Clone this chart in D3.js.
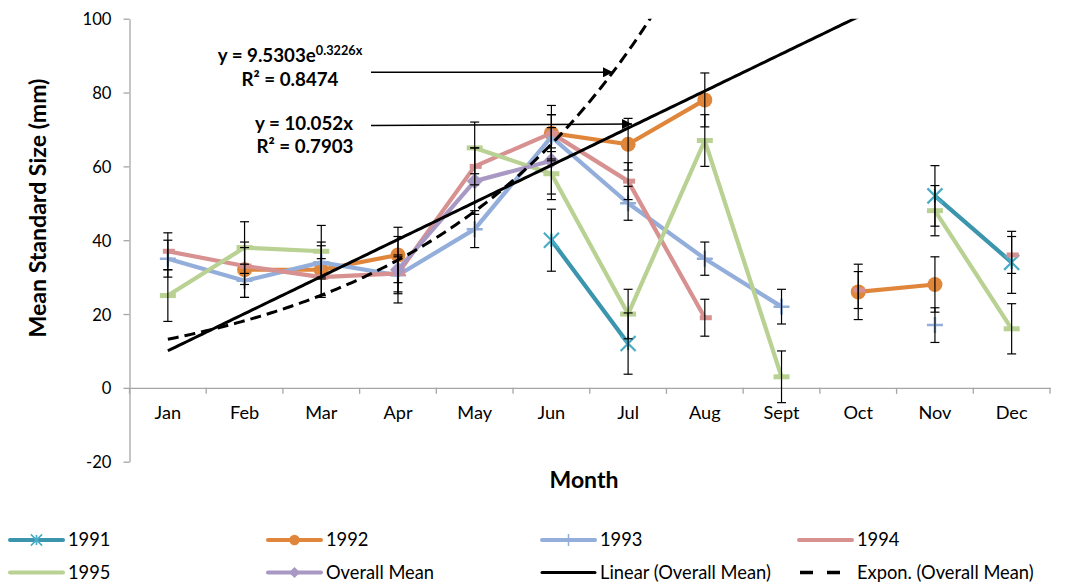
<!DOCTYPE html>
<html><head><meta charset="utf-8">
<script src="https://cdn.jsdelivr.net/npm/d3@7"></script>
<style>
body{margin:0;background:#fff}
svg{display:block}
text{font-family:Lato,"Liberation Sans",sans-serif;fill:#000}
</style>
</head><body>
<svg id="chart" width="1070" height="586"></svg>
<script>
// ---------- data ----------
const months = ["Jan","Feb","Mar","Apr","May","Jun","Jul","Aug","Sept","Oct","Nov","Dec"];
const yTicks = [-20,0,20,40,60,80,100];

const s1991 = [null,null,null,null,null,40,12,null,null,null,52,34];
const s1992 = [null,32,32,36,null,69,66,78,null,26,28,null];
const s1993 = [35,29,34,30.5,43,68,50,35,22,null,17,null];
const s1994 = [37,33,30,31,60,69,56,19,null,26.5,null,36];
const s1995 = [25,38,37,null,65,58,20,67,3,null,48,16];
const sMean = [null,null,null,32,56,61.5,null,null,null,null,null,null];

const e1991 = [null,null,null,null,null,8.4,8.3,null,null,null,8.2,8.4];
const e1992 = [null,7.5,7.5,7.5,null,7.5,7,7.3,null,7.5,7.5,null];
const e1993 = [5,4.5,4.5,5,5,6,4.6,4.5,4.7,null,4.7,null];
const e1994 = [5,5,5,5,5,5,5,5,null,5,null,5];
const e1995 = [7,7,7,null,7,7,6.7,7,7,null,6.8,6.8];
const eMean = [null,null,null,9,9,9,null,null,null,null,null,null];

// trendlines of Overall Mean as printed on the chart
const linearSlope = 10.052;
const expA = 9.5303, expB = 0.3226;

const seriesNames = ["1991","1992","1993","1994","1995","Overall Mean"];

// ---------- styles ----------
const seriesDefs = [
  {name:seriesNames[0], vals:s1991, err:e1991, line:"#3A95AD", mcol:"#4BACC6", marker:"star"},
  {name:seriesNames[1], vals:s1992, err:e1992, line:"#E0863B", mcol:"#E0863B", marker:"circle"},
  {name:seriesNames[2], vals:s1993, err:e1993, line:"#93AEDA", mcol:"#93AEDA", marker:"plus"},
  {name:seriesNames[3], vals:s1994, err:e1994, line:"#D69190", mcol:"#D69190", marker:"dashS"},
  {name:seriesNames[4], vals:s1995, err:e1995, line:"#B9D192", mcol:"#B9D192", marker:"dashL"},
  {name:seriesNames[5], vals:sMean, err:eMean, line:"#A898C4", mcol:"#A898C4", marker:"diamond"}
];

const svg = d3.select("#chart");
const X0 = 129.5, X1 = 1050;
const x = d3.scaleBand().domain(months).range([X0, X1]).paddingInner(0).paddingOuter(0);
const bw = x.bandwidth();
const cx = m => x(m) + bw/2;
const xNum = d3.scaleLinear().domain([1,12]).range([cx(months[0]), cx(months[11])]);
const y = d3.scaleLinear().domain([-20,100]).range([461.7, 18.7]);

// scale a text's font so its rendered width equals target
function fit(sel, target){
  const node = sel.node();
  const fs = parseFloat(sel.attr("font-size"));
  const w = node.getComputedTextLength();
  const nf = fs*target/w;
  sel.attr("font-size", nf);
  return nf;
}

svg.append("defs").append("clipPath").attr("id","plotclip")
  .append("rect").attr("x",X0).attr("y",y(100)).attr("width",X1-X0).attr("height",y(-20)-y(100));

// y axis
const yAxis = svg.append("g").attr("transform",`translate(${X0},0)`)
  .call(d3.axisLeft(y).tickValues(yTicks).tickFormat(d=>String(d)).tickSize(6).tickSizeOuter(0).tickPadding(12));
yAxis.select(".domain").attr("stroke","#A6A6A6").attr("stroke-width",1.3);
yAxis.selectAll(".tick line").attr("stroke","#A6A6A6").attr("stroke-width",1.3);
yAxis.selectAll(".tick text").attr("font-size",17).attr("fill","#333").style("font-family","Lato,sans-serif");
{
  const t100 = yAxis.selectAll(".tick text").filter(d=>d===100);
  const f = fit(t100, 29);
  yAxis.selectAll(".tick text").attr("font-size",f).attr("dy","0.36em");
}

// x axis at y=0
const xAxis = svg.append("g").attr("transform",`translate(0,${y(0)})`)
  .call(d3.axisBottom(x).tickSize(0).tickPadding(18));
xAxis.select(".domain").attr("stroke","#A6A6A6").attr("stroke-width",1.3);
xAxis.selectAll(".tick text").attr("font-size",16).attr("fill","#333").style("font-family","Lato,sans-serif");
{
  const tJan = xAxis.selectAll(".tick text").filter(d=>d==="Jan");
  const f = fit(tJan, 26.5);
  xAxis.selectAll(".tick text").attr("font-size",f);
}
svg.append("g").selectAll("line").data(d3.range(months.length+1)).join("line")
  .attr("x1",i=>X0+i*bw).attr("x2",i=>X0+i*bw)
  .attr("y1",y(0)).attr("y2",y(0)+6)
  .attr("stroke","#A6A6A6").attr("stroke-width",1.3);

// axis titles
const yt = svg.append("text").attr("transform","translate(46,208) rotate(-90)")
  .attr("text-anchor","middle").attr("font-weight","bold").attr("font-size",19.5)
  .text("Mean Standard Size (mm)");
fit(yt, 259);
const xt = svg.append("text").attr("x",584).attr("y",488)
  .attr("text-anchor","middle").attr("font-weight","bold").attr("font-size",19.5)
  .text("Month");
fit(xt, 69);

// markers
function drawMarker(g, type, px, py, col, scale){
  const s = scale || 1;
  if(type==="star"){
    const h=7.5*s;
    g.append("path").attr("d",`M${px-h},${py-h}L${px+h},${py+h}M${px-h},${py+h}L${px+h},${py-h}M${px},${py-h*0.9}L${px},${py+h*0.9}`)
      .attr("stroke",col).attr("stroke-width",2.2*s).attr("fill","none");
  } else if(type==="circle"){
    g.append("circle").attr("cx",px).attr("cy",py).attr("r",7.5*s).attr("fill",col);
  } else if(type==="plus"){
    const h=8*s;
    g.append("path").attr("d",`M${px-h},${py}L${px+h},${py}M${px},${py-h}L${px},${py+h}`)
      .attr("stroke",col).attr("stroke-width",2.5*s).attr("fill","none");
  } else if(type==="dashS"){
    g.append("rect").attr("x",px-5).attr("y",py-2.5).attr("width",12*s).attr("height",5*s).attr("fill",col);
  } else if(type==="dashL"){
    g.append("rect").attr("x",px-8*s).attr("y",py-2.5*s).attr("width",16*s).attr("height",5*s).attr("fill",col);
  } else if(type==="diamond"){
    const h=8*s;
    g.append("path").attr("d",`M${px},${py-h}L${px+h},${py}L${px},${py+h}L${px-h},${py}Z`).attr("fill",col);
  }
}

const plot = svg.append("g");
const line = d3.line().defined(d=>d.v!=null).x(d=>cx(d.m)).y(d=>y(d.v));
seriesDefs.forEach(sd=>{
  const pts = months.map((m,i)=>({m, v:sd.vals[i]}));
  const g = plot.append("g");
  g.append("path").datum(pts).attr("d",line).attr("fill","none")
    .attr("stroke",sd.line).attr("stroke-width",4.2).attr("stroke-linejoin","round");
  pts.filter(p=>p.v!=null).forEach(p=>drawMarker(g, sd.marker, cx(p.m), y(p.v), sd.mcol));
});

// error bars
const eg = svg.append("g").attr("stroke","#000").attr("stroke-width",1.2);
seriesDefs.forEach(sd=>{
  months.forEach((m,i)=>{
    const v = sd.vals[i], e = sd.err[i];
    if(v==null || e==null) return;
    const px = cx(m), top = y(v+e), bot = y(v-e);
    eg.append("line").attr("x1",px).attr("x2",px).attr("y1",top).attr("y2",bot);
    eg.append("line").attr("x1",px-4.5).attr("x2",px+4.5).attr("y1",top).attr("y2",top);
    eg.append("line").attr("x1",px-4.5).attr("x2",px+4.5).attr("y1",bot).attr("y2",bot);
  });
});

// trendlines
const tr = svg.append("g").attr("clip-path","url(#plotclip)");
const ts = d3.range(1, 12.001, 0.05);
tr.append("path").datum(ts).attr("d",d3.line().x(t=>xNum(t)).y(t=>y(linearSlope*t)))
  .attr("fill","none").attr("stroke","#000").attr("stroke-width",3);
tr.append("path").datum(ts).attr("d",d3.line().x(t=>xNum(t)).y(t=>y(Math.min(expA*Math.exp(expB*t),140))))
  .attr("fill","none").attr("stroke","#000").attr("stroke-width",3).attr("stroke-dasharray","11,6");

// annotations
const ann = svg.append("g").attr("font-weight","bold").attr("text-anchor","middle");
const r1 = ann.append("text").attr("x",290).attr("y",86).attr("font-size",15.5).text("R² = 0.8474");
const af = fit(r1, 97);
const t1 = ann.append("text").attr("x",290).attr("y",62).attr("font-size",af);
t1.append("tspan").text("y = 9.5303e");
t1.append("tspan").attr("dy",-7).attr("font-size",af*0.68).text("0.3226x");
ann.append("text").attr("x",304).attr("y",130).attr("font-size",af).text("y = 10.052x");
ann.append("text").attr("x",305).attr("y",153).attr("font-size",af).text("R² = 0.7903");

svg.append("defs").append("marker").attr("id","arr").attr("viewBox","0 0 10 10")
  .attr("refX",10).attr("refY",5).attr("markerWidth",12).attr("markerHeight",10)
  .attr("markerUnits","userSpaceOnUse").attr("orient","auto")
  .append("path").attr("d","M0,0L10,5L0,10Z").attr("fill","#000");
svg.append("line").attr("x1",371).attr("y1",72.3).attr("x2",613).attr("y2",72.3)
  .attr("stroke","#000").attr("stroke-width",1.6).attr("marker-end","url(#arr)");
svg.append("line").attr("x1",371).attr("y1",125.5).attr("x2",632).attr("y2",124)
  .attr("stroke","#000").attr("stroke-width",1.6).attr("marker-end","url(#arr)");

// legend
const legendItems = [
  {label:seriesNames[0], col:seriesDefs[0].line, mcol:seriesDefs[0].mcol, marker:"star", x:10, y:540},
  {label:seriesNames[1], col:seriesDefs[1].line, mcol:seriesDefs[1].mcol, marker:"circle", x:268, y:540},
  {label:seriesNames[2], col:seriesDefs[2].line, mcol:seriesDefs[2].mcol, marker:"plusL", x:542, y:540},
  {label:seriesNames[3], col:seriesDefs[3].line, mcol:null, marker:null, x:799, y:540},
  {label:seriesNames[4], col:seriesDefs[4].line, mcol:null, marker:null, x:10, y:572.5},
  {label:seriesNames[5], col:seriesDefs[5].line, mcol:seriesDefs[5].mcol, marker:"diamond", x:268, y:572.5},
  {label:"Linear (Overall Mean)", col:"#000", marker:null, x:542, y:572.5, solidBlack:true},
  {label:"Expon. (Overall Mean)", col:"#000", marker:null, x:799, y:572.5, dashed:true}
];
const lg = svg.append("g");
legendItems.forEach(it=>{
  const g = lg.append("g");
  if(it.dashed){
    g.append("line").attr("x1",it.x+1).attr("x2",it.x+44).attr("y1",it.y).attr("y2",it.y)
      .attr("stroke","#000").attr("stroke-width",3.5).attr("stroke-dasharray","13,14");
  } else {
    g.append("line").attr("x1",it.x).attr("x2",it.x+53).attr("y1",it.y).attr("y2",it.y)
      .attr("stroke",it.col).attr("stroke-width",it.solidBlack?3:4).attr("stroke-linecap","round");
  }
  const mx = it.x+26.5;
  if(it.marker==="star") drawMarker(g,"star",mx,it.y,it.mcol,0.75);
  if(it.marker==="circle") drawMarker(g,"circle",mx,it.y,it.mcol,0.7);
  if(it.marker==="diamond") drawMarker(g,"diamond",mx,it.y,it.mcol,0.7);
  if(it.marker==="plusL") g.append("line").attr("x1",mx).attr("x2",mx).attr("y1",it.y-6).attr("y2",it.y+6)
      .attr("stroke",it.mcol).attr("stroke-width",1.5);
  it.textSel = g.append("text").attr("x",it.x+(it.dashed?58:58)).attr("y",it.y+6).attr("font-size",17).attr("fill","#222").text(it.label);
});
{
  const f = fit(legendItems[6].textSel, 171);
  legendItems.forEach(it=>it.textSel.attr("font-size",f));
}
</script>
</body></html>
